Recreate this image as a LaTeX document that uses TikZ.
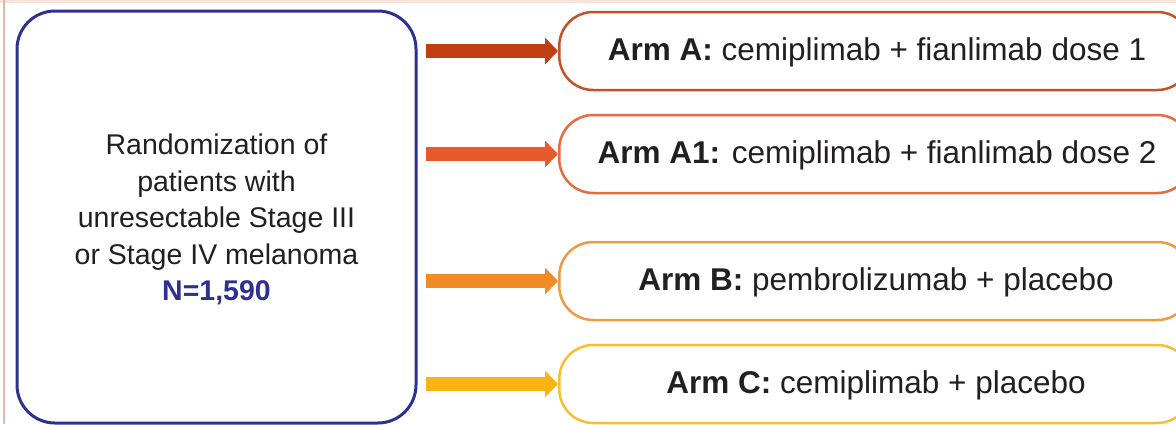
\documentclass[tikz,border=0pt]{standalone}
\usepackage{fontspec}
\setmainfont{Liberation Sans}
\usetikzlibrary{arrows.meta}
\definecolor{navy}{HTML}{2E3192}
\definecolor{txt}{HTML}{231F20}
\definecolor{cA}{HTML}{C23E12}
\definecolor{cAone}{HTML}{E95A2B}
\definecolor{cB}{HTML}{F28A26}
\definecolor{cC}{HTML}{FCB414}
\definecolor{bA}{HTML}{C4502A}
\definecolor{bAone}{HTML}{E86A40}
\definecolor{bB}{HTML}{EE9A45}
\definecolor{bC}{HTML}{F7BE30}
\definecolor{edgeline}{HTML}{E3B8A6}
\definecolor{edgetop}{HTML}{F7E3D8}
\tikzset{
  x=1pt, y=-1pt,
  armbox/.style={draw, line width=2.5pt, rounded corners=34pt, minimum width=632pt,
    minimum height=78pt, anchor=west, inner sep=0pt},
  armtext/.style={text=txt, font=\fontsize{31.5}{38}\selectfont},
  bigarrow/.style={line width=14pt, -{Triangle[length=13pt,width=26pt]}},
}
\begin{document}
\begin{tikzpicture}
\useasboundingbox (0,0) rectangle (1176,424);
\clip (0,0) rectangle (1176,424);
\fill[white] (0,0) rectangle (1176,424);
\draw[edgetop, line width=3pt] (0,1.5) -- (1176,1.5);
\draw[edgeline, line width=2pt] (3.5,0) -- (3.5,424);

\node[draw=navy, line width=3pt, rounded corners=38pt, minimum width=399pt,
  minimum height=412pt, inner sep=0pt, text=txt] (L) at (216.5,217) {};
\node[align=center, text=txt, font=\fontsize{28.5}{36.5}\selectfont] (Lt) at (216.5,219.5)
  {Randomization of\\patients with\\unresectable Stage III\\or Stage IV melanoma\\
   {\color{navy}\bfseries N=1,590}};

\node[armbox, draw=bA] (A) at (558,51) {};
\node[armtext] (tA) at (877,52) {\textbf{Arm A:} cemiplimab + fianlimab dose 1};
\node[armbox, draw=bAone] (A1) at (558,154) {};
\node[armtext] (tA1) at (877,155) {\textbf{Arm A1:} cemiplimab + fianlimab dose 2};
\node[armbox, draw=bB] (B) at (558,281) {};
\node[armtext] (tB) at (876,282) {\textbf{Arm B:} pembrolizumab + placebo};
\node[armbox, draw=bC] (C) at (558,384) {};
\node[armtext] (tC) at (876,385) {\textbf{Arm C:} cemiplimab + placebo};

\draw[bigarrow, cA] ([xshift=8pt]L.east |- A.west) -- (A.west);
\draw[bigarrow, cAone] ([xshift=8pt]L.east |- A1.west) -- (A1.west);
\draw[bigarrow, cB] ([xshift=8pt]L.east |- B.west) -- (B.west);
\draw[bigarrow, cC] ([xshift=8pt]L.east |- C.west) -- (C.west);
\end{tikzpicture}
\end{document}
